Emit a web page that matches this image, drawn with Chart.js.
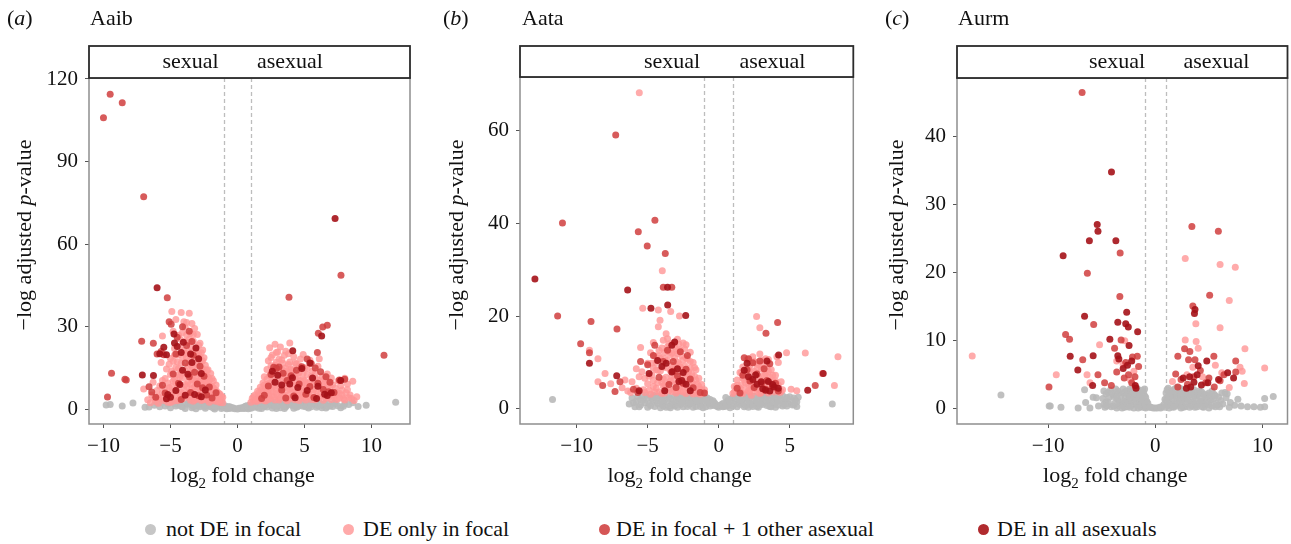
<!DOCTYPE html>
<html>
<head>
<meta charset="utf-8">
<script src="https://cdn.jsdelivr.net/npm/chart.js@4.4.1/dist/chart.umd.min.js"></script>
<style>
  body { margin: 0; background: #fff; }
  #wrap { position: relative; width: 1291px; height: 544px; overflow: hidden; font-family: "Liberation Serif", "Times New Roman", serif; }
  #wrap canvas { position: absolute; top: 0; }
  .legend { position: absolute; top: 516px; left: 0; width: 1291px; height: 28px; font-size: 22px; color: #111; }
  .legend .dot { position: absolute; top: 7.5px; width: 11px; height: 11px; border-radius: 50%; }
  .legend .lab { position: absolute; top: 0; line-height: 26px; white-space: nowrap; }
</style>
</head>
<body>
<div id="wrap">
  <div class="legend" id="legend"></div>
</div>
<script>
// categories (legend order)
const legendLabels = ['not DE in focal', 'DE only in focal', 'DE in focal + 1 other asexual', 'DE in all asexuals'];

// ---- Aaib : [log2 fold change, -log adjusted p] ----
const aaibNotDE = [[-9.8,1.6],[-9.5,1.7],[-8.6,1.2],[-7.8,2.3],[-6.9,0.7],[-6.6,0.8],[-6.2,1.5],[-5.6,2.6],[-5.2,1.9],[-4.9,2.8],[-4.6,1.2],[-4.3,2.4],[-4.1,0.9],[-3.8,1.8],[-3.6,2.9],[-3.4,0.6],[-3.2,1.5],[-3.0,2.6],[-2.8,0.9],[-2.6,1.9],[-2.4,0.4],[-2.3,2.8],[-2.1,1.2],[-1.9,2.2],[-1.8,0.5],[-1.6,1.6],[-1.5,0.8],[-1.3,1.9],[-1.2,0.3],[-1.0,1.1],[-0.9,0.6],[-0.7,0.9],[-0.6,0.3],[-0.4,0.5],[-0.2,0.2],[0,0.1],[0.2,0.3],[0.4,0.4],[0.5,0.8],[0.7,0.5],[0.9,1.0],[1.0,0.4],[1.2,1.5],[1.3,0.7],[1.5,2.0],[1.7,1.1],[1.8,0.3],[2.0,2.4],[2.2,0.8],[2.4,1.7],[2.6,0.5],[2.8,2.6],[3.0,1.2],[3.2,0.6],[3.4,1.9],[3.6,0.9],[3.9,2.5],[4.1,1.4],[4.4,0.7],[4.6,2.2],[4.9,1.1],[5.2,2.7],[5.5,0.9],[5.8,1.8],[6.1,2.4],[6.4,1.2],[6.8,2.0],[7.1,1.0],[7.5,1.3],[7.9,1.1],[8.3,1.7],[8.6,2.4],[9.0,1.0],[9.6,1.5],[11.8,2.6],[-3.9,0.3],[-3.1,0.2],[-2.5,1.3],[-1.7,0.1],[-1.1,0.7],[-0.8,0.2],[0.8,0.2],[1.1,1.2],[1.6,0.4],[2.1,1.6],[2.5,2.9],[2.9,0.3],[3.3,2.8],[3.7,1.5],[4.2,0.4],[4.8,2.7],[5.3,0.5],[5.9,0.7],[6.6,0.5],[-4.4,1.7],[-2.9,1.9],[-2.0,0.9],[-1.4,1.3],[-0.5,0.7],[0.3,0.6],[0.6,1.1],[1.4,1.0],[1.9,1.9],[2.7,1.3],[3.5,0.3],[4.0,2.0],[4.5,1.0],[5.0,1.7],[5.7,2.3],[6.3,0.6],[7.3,2.0],[7.7,0.6],
  [-5.4,1.2],[-5.0,0.6],[-4.7,2.0],[-4.2,1.1],[-3.7,2.2],[-3.3,1.0],[-2.7,2.3],[-2.2,1.8],[-1.9,1.4],[-1.5,2.3],[-1.2,1.6],[-0.9,1.2],[-0.3,0.5],[0.1,0.4],[0.5,0.3],[0.9,1.6],[1.3,2.1],[1.7,2.6],[2.3,2.1],[2.6,1.5],[3.1,2.2],[3.6,2.6],[4.3,1.9],[4.7,1.5],[5.1,0.9],[5.4,1.6],[5.6,2.5],[6.0,1.3],[6.5,2.0],[6.9,1.2],[7.2,2.3],[8.0,1.9],[-6.0,2.2],[-5.8,0.9],[-3.5,1.7],[-2.9,1.4],[-2.4,1.0],[-1.7,1.0],[-1.1,1.6],[-0.6,0.9],[0.7,1.3],[1.1,0.8],[2.0,1.0],[2.8,1.0],[3.4,1.3],[4.5,2.6],[5.5,2.0],[6.2,1.7],[6.7,1.0]];
const aaibFocalOnly = [[-6.7,3.5],[-6.4,5.2],[-6.1,2.8],[-5.9,4.6],[-5.8,8.5],[-5.6,6.1],[-5.5,3.2],[-5.4,11.2],[-5.3,14.6],[-5.2,2.6],[-5.1,7.8],[-5.0,18.5],[-4.9,35.5],[-4.9,4.8],[-4.8,10.3],[-4.8,28.4],[-4.7,22.1],[-4.7,6.5],[-4.6,15.2],[-4.6,32.6],[-4.5,3.1],[-4.5,12.4],[-4.4,19.8],[-4.4,8.8],[-4.3,25.6],[-4.3,5.4],[-4.2,16.7],[-4.2,35.2],[-4.1,11.5],[-4.1,3.8],[-4.0,21.4],[-4.0,7.2],[-3.9,29.8],[-3.9,14.1],[-3.8,4.4],[-3.8,18.6],[-3.7,9.9],[-3.7,24.3],[-3.6,34.9],[-3.6,6.3],[-3.6,13.0],[-3.5,27.7],[-3.5,16.2],[-3.5,3.3],[-3.4,20.8],[-3.4,10.7],[-3.4,31.2],[-3.3,5.8],[-3.3,14.9],[-3.3,24.8],[-3.2,8.2],[-3.2,18.3],[-3.2,29.4],[-3.1,3.6],[-3.1,12.1],[-3.1,22.0],[-3.0,6.9],[-3.0,16.0],[-3.0,27.2],[-2.9,9.6],[-2.9,20.1],[-2.9,4.1],[-2.8,13.6],[-2.8,24.0],[-2.8,7.5],[-2.7,17.4],[-2.7,3.2],[-2.7,11.0],[-2.6,21.5],[-2.6,5.6],[-2.6,14.8],[-2.5,8.9],[-2.5,18.7],[-2.5,3.9],[-2.4,12.4],[-2.4,16.0],[-2.4,6.4],[-2.3,9.8],[-2.3,14.2],[-2.3,3.4],[-2.2,7.2],[-2.2,11.6],[-2.1,4.8],[-2.1,9.0],[-2.0,13.0],[-2.0,6.0],[-1.9,3.6],[-1.9,8.2],[-1.8,10.4],[-1.8,5.1],[-1.7,7.0],[-1.7,3.0],[-1.6,8.8],[-1.6,4.6],[-1.5,6.1],[-1.5,2.8],[-1.4,4.2],[-1.3,5.5],[-1.3,2.5],[-1.2,3.6],[-1.1,2.4],[-1.1,4.4],[-4.4,26.9],[-4.0,31.8],[-3.8,27.0],[-3.7,15.6],[-3.4,7.6],[-3.0,10.2],[-2.8,19.0],[-2.6,10.0],[-3.9,9.0],[-4.2,13.5],[-4.6,9.7],[-5.0,12.6],[-3.3,2.9],[-2.1,2.6],[-5.6,26.6],[-6.3,9.8],[-7.0,7.4],[-5.7,17.0],
  [-6.5,2.4],[-6.2,4.0],[-6.0,6.8],[-5.9,2.2],[-5.7,3.9],[-5.6,10.5],[-5.4,7.4],[-5.3,4.5],[-5.2,9.6],[-5.1,16.4],[-5.0,5.7],[-5.0,2.5],[-4.9,8.1],[-4.9,13.9],[-4.8,17.5],[-4.8,2.9],[-4.7,11.0],[-4.7,19.6],[-4.6,5.0],[-4.5,17.3],[-4.5,7.6],[-4.4,14.8],[-4.4,3.4],[-4.3,22.9],[-4.3,11.9],[-4.2,6.1],[-4.1,18.8],[-4.1,27.9],[-4.0,4.9],[-4.0,13.2],[-3.9,24.6],[-3.9,20.2],[-3.8,8.3],[-3.8,31.5],[-3.7,5.5],[-3.7,20.9],[-3.6,17.8],[-3.6,25.5],[-3.5,9.1],[-3.5,22.9],[-3.4,4.6],[-3.4,14.1],[-3.3,11.3],[-3.3,27.2],[-3.2,3.4],[-3.2,21.1],[-3.1,9.7],[-3.1,17.0],[-3.0,4.4],[-3.0,19.4],[-2.9,13.0],[-2.9,23.3],[-2.8,5.4],[-2.8,10.6],[-2.7,8.2],[-2.7,20.5],[-2.6,3.5],[-2.6,17.6],[-2.5,6.2],[-2.5,14.1],[-2.4,4.2],[-2.4,10.1],[-2.3,7.9],[-2.3,12.2],[-2.2,5.0],[-2.2,14.4],[-2.1,10.8],[-2.0,3.8],[-2.0,8.4],[-1.9,6.5],[-1.9,11.2],[-1.8,3.4],[-1.8,7.7],[-1.7,5.5],[-1.6,3.6],[-1.6,6.8],[-1.5,4.6],[-1.4,3.1],[-1.4,5.8],[-1.2,4.7],
  [1.0,2.6],[1.1,4.0],[1.2,3.1],[1.3,5.2],[1.4,2.8],[1.5,6.6],[1.5,4.1],[1.6,3.2],[1.7,8.0],[1.7,5.3],[1.8,3.6],[1.9,9.6],[1.9,6.5],[2.0,4.3],[2.0,11.8],[2.1,7.6],[2.1,3.0],[2.2,14.5],[2.2,9.1],[2.3,5.4],[2.3,17.6],[2.4,22.4],[2.4,12.3],[2.4,3.8],[2.5,7.1],[2.5,15.8],[2.6,10.2],[2.6,19.7],[2.7,4.6],[2.7,13.2],[2.8,8.4],[2.8,23.6],[2.9,17.1],[2.9,5.7],[3.0,11.0],[3.0,20.8],[3.1,3.4],[3.1,14.6],[3.2,8.9],[3.2,22.6],[3.3,6.2],[3.3,17.9],[3.4,12.1],[3.5,4.5],[3.5,19.6],[3.6,9.7],[3.6,15.0],[3.7,6.8],[3.8,12.9],[3.8,20.2],[3.9,3.7],[3.9,17.2],[4.0,10.4],[4.1,7.3],[4.1,14.3],[4.2,19.1],[4.3,4.9],[4.3,11.6],[4.4,16.5],[4.5,8.1],[4.6,13.4],[4.6,3.2],[4.7,18.3],[4.8,6.4],[4.9,10.9],[5.0,15.1],[5.0,4.2],[5.1,8.7],[5.2,12.6],[5.3,5.6],[5.4,17.8],[5.4,9.9],[5.5,3.6],[5.6,13.9],[5.7,7.1],[5.8,11.2],[5.9,4.7],[6.0,15.6],[6.1,8.4],[6.2,5.9],[6.3,12.0],[6.4,3.3],[6.5,9.3],[6.6,6.6],[6.7,12.8],[6.8,4.4],[6.9,8.1],[7.0,11.4],[7.1,5.3],[7.3,7.7],[7.4,3.6],[7.5,10.3],[7.6,5.8],[7.8,7.0],[7.9,3.9],[8.0,11.3],[8.1,6.0],[8.3,4.2],[8.6,10.2],[8.7,3.2],[8.9,4.6],[8.2,9.2],[6.1,18.4],[4.9,19.9],[3.9,24.1],[2.9,13.9],[3.4,9.4],[4.4,6.0],[5.7,10.2],[2.2,6.2],[3.7,3.1],
  [1.2,4.6],[1.4,3.5],[1.6,6.0],[1.8,4.6],[1.8,7.2],[2.0,3.2],[2.0,8.8],[2.1,5.6],[2.2,11.0],[2.3,3.6],[2.3,7.4],[2.4,9.6],[2.5,4.8],[2.5,18.8],[2.6,6.4],[2.6,14.0],[2.7,8.8],[2.7,11.5],[2.8,3.4],[2.8,16.0],[2.9,7.3],[2.9,20.6],[3.0,5.0],[3.0,9.4],[3.1,12.4],[3.1,18.3],[3.2,4.1],[3.2,6.8],[3.3,10.1],[3.3,14.5],[3.4,5.2],[3.4,16.7],[3.5,7.9],[3.5,11.6],[3.6,3.6],[3.6,21.1],[3.7,8.9],[3.7,13.8],[3.8,5.3],[3.8,16.3],[3.9,7.5],[3.9,11.3],[4.0,4.3],[4.0,14.6],[4.1,9.2],[4.2,6.1],[4.2,12.5],[4.3,3.5],[4.3,16.8],[4.4,9.8],[4.5,5.3],[4.5,12.0],[4.6,7.0],[4.6,15.7],[4.7,4.0],[4.7,10.4],[4.8,8.3],[4.9,13.2],[4.9,5.0],[5.0,7.0],[5.0,10.5],[5.1,3.4],[5.2,9.4],[5.2,14.9],[5.3,7.2],[5.4,4.6],[5.5,11.8],[5.6,6.1],[5.7,8.7],[5.8,3.5],[5.8,13.0],[5.9,6.8],[6.0,10.6],[6.1,4.5],[6.2,7.7],[6.3,9.8],[6.4,5.2],[6.5,11.1],[6.6,4.0],[6.7,8.4],[6.8,10.0],[6.9,5.7],[7.0,3.6],[7.1,8.9],[7.2,4.6],[7.4,6.2],[7.6,4.0],[7.7,8.6],[7.8,5.1],[8.0,3.4],[8.2,7.1],[8.4,5.2],[8.5,3.9]];
const aaibPlusOne = [[-10.0,105.9],[-9.5,114.5],[-8.6,111.4],[-7.0,77.2],[-5.24,40.5],[-9.7,4.5],[-9.4,13.1],[-8.4,10.9],[-8.3,10.6],[-7.15,24.7],[-6.28,24.0],[-6.6,8.2],[-6.4,6.3],[-6.0,20.1],[-5.7,21.0],[-5.5,19.8],[-5.1,31.8],[-4.95,30.9],[-4.6,20.1],[-4.8,12.8],[-4.4,9.5],[-4.2,3.6],[-3.9,16.8],[-3.8,23.2],[-3.6,11.8],[-3.5,6.1],[-3.3,19.6],[-3.2,13.5],[-3.0,9.2],[-2.9,4.9],[-2.8,15.6],[-2.6,7.8],[-2.5,12.0],[-2.3,5.2],[-2.1,8.1],[-1.9,4.1],[-1.6,6.0],[-5.4,5.9],[-5.6,8.7],[-6.1,4.4],[-4.5,26.2],[-4.1,30.0],[-3.6,28.4],[-3.4,24.6],
  [7.72,48.7],[3.84,40.7],[10.93,19.6],[6.03,27.6],[6.36,29.9],[6.7,30.5],[5.96,20.6],[2.7,15.3],[2.9,14.9],[3.1,15.4],[2.5,12.6],[3.4,13.1],[3.7,10.5],[3.3,7.0],[4.0,12.2],[4.4,14.2],[4.8,15.5],[5.2,18.3],[5.5,16.6],[5.8,15.0],[6.2,13.6],[6.6,11.8],[6.9,9.8],[7.2,6.1],[6.4,7.2],[6.8,6.4],[5.4,8.3],[5.1,5.5],[4.6,9.2],[2.0,5.1],[2.3,8.5],[1.8,3.9],[7.6,10.6],[8.0,10.9],[4.2,4.8],[3.6,4.1],[5.7,4.3],[6.0,9.5]];
const aaibAllAsex = [[-6.0,44.2],[-4.74,27.4],[-4.5,22.8],[-4.04,24.4],[-7.1,12.5],[-6.27,12.3],[-5.5,22.5],[-5.8,20.2],[-5.3,19.8],[-4.7,24.1],[-4.2,20.6],[-5.2,5.4],[-5.3,3.8],[-5.0,4.4],[-4.3,9.0],[-3.7,12.7],[-3.5,20.1],[-3.4,17.0],[-3.1,22.3],[-2.9,18.4],[-2.7,13.0],[-2.4,7.0],[-3.9,5.1],[-4.1,14.2],[-3.2,5.4],[-2.7,4.6],[-4.6,6.8],
  [7.28,69.3],[4.12,21.3],[6.28,26.6],[2.6,13.8],[3.0,12.4],[3.9,9.2],[4.1,11.5],[4.5,7.9],[4.8,14.8],[5.2,6.8],[5.6,11.4],[5.4,16.8],[6.0,8.4],[6.5,5.5],[6.7,5.0],[7.0,6.0],[7.7,10.5],[3.3,8.8],[2.8,9.8],[5.9,3.9],[4.3,4.2]];
const aaibXTicks = [-10, -5, 0, 5, 10];
const aaibYTicks = [0, 30, 60, 90, 120];

// ---- Aata ----
const aataNotDE = [[-11.7,2.0],[8.0,1.0],[-6.0,1.3],[-5.7,2.6],[-5.5,0.8],[-5.3,1.9],[-5.1,2.9],[-4.9,1.1],[-4.7,2.2],[-4.5,0.5],[-4.4,1.6],[-4.2,2.7],[-4.0,0.9],[-3.8,1.9],[-3.7,0.3],[-3.5,2.5],[-3.3,1.2],[-3.1,0.6],[-3.0,2.1],[-2.8,1.5],[-2.6,2.8],[-2.5,0.4],[-2.3,1.8],[-2.1,0.9],[-2.0,2.4],[-1.8,1.3],[-1.6,0.5],[-1.5,2.0],[-1.3,1.0],[-1.2,2.6],[-1.0,1.6],[-0.9,0.4],[-0.7,1.1],[-0.6,2.0],[-0.4,0.8],[-0.3,1.3],[-0.1,0.5],[0,0.3],[0.1,0.7],[0.3,1.1],[0.4,0.5],[0.6,1.6],[0.7,0.9],[0.9,2.1],[1.0,0.6],[1.2,1.5],[1.3,2.6],[1.5,0.9],[1.7,2.0],[1.8,0.4],[2.0,1.4],[2.2,2.7],[2.3,0.8],[2.5,1.9],[2.7,0.5],[2.9,2.4],[3.0,1.2],[3.2,2.9],[3.4,0.7],[3.6,1.8],[3.8,2.5],[3.9,0.9],[4.1,1.5],[4.3,2.8],[4.5,0.6],[4.7,2.0],[4.9,1.1],[5.0,2.6],[5.2,0.8],[5.4,1.9],[5.5,0.5],[-5.9,0.4],[-4.6,2.9],[-3.9,1.3],[-3.4,0.2],[-2.7,0.9],[-2.2,2.9],[-1.7,1.7],[-1.1,0.2],[-0.8,2.3],[0.5,2.4],[0.8,0.2],[1.4,1.2],[1.9,2.9],[2.6,1.1],[3.3,1.7],[4.0,0.3],[4.6,1.3],[5.3,2.3],[-4.1,0.2],[-2.9,2.7],[-1.4,1.4],[2.1,0.3],[3.7,0.4],[-6.3,1.0],[-5.0,0.3],
  [-6.1,2.3],[-5.8,1.6],[-5.6,0.4],[-5.4,2.8],[-5.2,1.3],[-5.0,2.3],[-4.8,0.7],[-4.6,1.8],[-4.3,1.1],[-4.1,2.4],[-3.9,0.6],[-3.8,2.8],[-3.6,1.6],[-3.4,2.2],[-3.2,0.9],[-3.0,1.6],[-2.9,0.3],[-2.7,2.2],[-2.5,1.5],[-2.4,2.6],[-2.2,0.5],[-2.1,1.9],[-1.9,2.6],[-1.8,0.3],[-1.6,1.6],[-1.5,2.7],[-1.3,0.5],[-1.2,1.8],[-1.0,2.3],[-0.8,1.5],[-0.6,0.6],[-0.5,1.5],[-0.3,0.7],[-0.2,0.9],[0.2,0.9],[0.3,0.4],[0.5,1.2],[0.6,0.6],[0.8,1.6],[1.0,2.5],[1.1,1.0],[1.3,0.4],[1.4,2.2],[1.6,1.5],[1.8,2.6],[1.9,0.7],[2.1,2.1],[2.2,1.2],[2.4,0.5],[2.5,2.7],[2.7,1.6],[2.8,0.3],[3.0,2.2],[3.1,0.9],[3.3,2.4],[3.5,1.3],[3.6,0.5],[3.8,1.5],[4.0,2.3],[4.2,0.8],[4.4,1.8],[4.5,2.8],[4.8,0.6],[4.8,2.4],[5.1,1.6],[5.3,0.9],[5.6,2.5],[5.5,1.5],[-4.5,2.6],[-3.5,0.5],[-2.6,1.2],[-1.4,2.2],[-0.4,1.7],[0.7,2.0],[1.5,1.8],[2.6,2.2],[3.4,2.8],[4.2,2.0],[-5.5,2.0],[-4.0,1.7],[-3.1,2.7],[-2.0,1.1],[-0.9,1.9],[1.2,2.8],[2.0,2.5],[2.9,1.0],[3.9,2.8],[4.6,0.9]];
const aataFocalOnly = [[-5.59,68.2],[-3.97,29.8],[-5.35,21.7],[-4.25,21.3],[-3.38,21.0],[-4.13,19.1],[-4.25,17.7],[-2.76,20.0],[-8.5,10.8],[-8.5,5.8],[-8.0,7.6],[-9.1,12.6],[-7.6,5.4],[-6.8,4.5],[-6.4,3.8],[-6.1,5.8],[-5.8,8.6],[-5.5,13.2],[-5.2,6.6],[-5.0,9.8],[-4.9,4.0],[-4.8,12.1],[-4.7,7.3],[-4.6,14.3],[-4.5,3.6],[-4.4,10.0],[-4.3,5.6],[-4.2,12.6],[-4.1,8.2],[-4.0,3.3],[-3.9,14.8],[-3.9,6.4],[-3.8,10.9],[-3.7,4.5],[-3.6,13.4],[-3.6,8.8],[-3.5,3.9],[-3.4,11.7],[-3.4,6.0],[-3.3,9.4],[-3.2,14.1],[-3.2,4.2],[-3.1,7.5],[-3.0,12.5],[-3.0,3.4],[-2.9,10.1],[-2.9,5.5],[-2.8,13.9],[-2.8,8.0],[-2.7,3.8],[-2.6,11.4],[-2.6,6.7],[-2.5,14.2],[-2.5,4.7],[-2.4,9.2],[-2.4,12.9],[-2.3,5.9],[-2.3,3.3],[-2.2,10.7],[-2.2,7.6],[-2.1,4.4],[-2.0,12.2],[-2.0,8.8],[-1.9,5.7],[-1.9,3.5],[-1.8,10.0],[-1.7,7.0],[-1.7,4.3],[-1.6,8.4],[-1.5,5.3],[-1.5,3.3],[-1.4,6.6],[-1.3,4.2],[-1.2,5.2],[-1.1,3.4],[-1.0,4.1],[-3.7,16.2],[-2.9,15.0],[-4.4,8.4],[-3.3,7.0],[-2.7,9.0],[-2.1,6.2],[-1.8,3.2],[-3.8,5.1],[-4.6,4.8],[-5.3,4.1],[-5.6,6.9],[-6.6,6.2],[-2.4,7.3],[-3.1,11.0],[-3.5,12.3],
  [-5.2,3.5],[-5.0,5.4],[-4.9,7.0],[-4.8,3.1],[-4.7,9.8],[-4.6,6.1],[-4.5,11.3],[-4.4,4.4],[-4.3,8.3],[-4.2,3.6],[-4.1,10.9],[-4.0,5.7],[-4.0,13.1],[-3.9,8.9],[-3.8,3.4],[-3.8,12.2],[-3.7,6.8],[-3.6,10.4],[-3.5,5.6],[-3.5,14.0],[-3.4,8.2],[-3.3,3.7],[-3.3,12.0],[-3.2,6.2],[-3.1,9.2],[-3.1,13.3],[-3.0,5.3],[-2.9,11.9],[-2.9,3.8],[-2.8,6.3],[-2.8,9.7],[-2.7,12.7],[-2.7,4.9],[-2.6,8.5],[-2.5,10.5],[-2.5,3.6],[-2.4,5.2],[-2.3,11.0],[-2.2,4.5],[-2.1,8.0],[-2.0,10.2],[-2.0,4.2],[-1.9,7.4],[-1.8,5.3],[-1.7,8.9],[-1.6,3.6],[-1.6,6.2],[-1.4,4.8],[-1.3,3.1],[-1.2,4.0],[-3.9,4.9],[-4.2,11.4],[-4.6,8.8],[-5.4,8.0],[-5.8,4.4],[-6.2,3.5],[-3.6,15.1],[-2.3,13.8],
  [2.67,19.9],[2.9,17.5],[4.78,12.1],[6.1,12.0],[8.4,11.2],[8.15,5.0],[5.1,4.2],[5.5,3.9],[7.3,7.6],[1.0,3.3],[1.1,4.8],[1.2,3.8],[1.3,6.2],[1.4,4.2],[1.5,7.8],[1.6,5.1],[1.6,3.4],[1.7,9.0],[1.8,6.3],[1.9,4.1],[2.0,10.6],[2.0,7.4],[2.1,5.2],[2.2,3.5],[2.2,9.3],[2.3,6.4],[2.4,11.2],[2.4,4.3],[2.5,8.1],[2.6,5.6],[2.6,10.0],[2.7,3.6],[2.8,7.0],[2.8,9.5],[2.9,4.8],[3.0,8.6],[3.1,6.1],[3.1,10.4],[3.2,3.9],[3.3,7.5],[3.4,5.2],[3.4,9.1],[3.5,3.4],[3.6,6.8],[3.7,8.4],[3.7,4.5],[3.8,5.9],[3.9,3.6],[4.0,7.2],[4.1,4.6],[4.2,10.0],[4.3,3.5],[4.4,5.8],[4.5,4.1],[4.1,11.2],[3.5,10.6],[2.3,2.9],[1.9,8.2],[2.9,11.8],
  [1.1,3.6],[1.3,5.0],[1.5,4.4],[1.7,3.3],[1.7,6.6],[1.9,5.5],[2.1,3.8],[2.1,8.6],[2.3,4.9],[2.3,7.8],[2.5,6.0],[2.5,10.2],[2.7,4.2],[2.7,8.8],[2.9,6.4],[3.0,3.5],[3.0,9.6],[3.2,5.2],[3.2,7.4],[3.4,3.8],[3.5,8.1],[3.6,5.3],[3.8,7.2],[3.9,4.3],[4.0,6.0],[4.2,5.1],[4.4,3.7],[1.6,7.8],[2.9,3.3],[3.3,10.8]];
const aataPlusOne = [[-7.25,59.1],[-11.0,40.1],[-11.34,20.0],[-8.99,18.8],[-9.72,14.0],[-9.1,12.1],[-8.17,5.0],[-7.16,17.2],[-6.95,5.8],[-7.3,3.7],[-5.66,38.2],[-5.03,35.1],[-4.49,40.7],[-3.76,33.5],[-3.9,26.2],[-3.3,26.2],[-6.0,4.2],[-5.7,3.5],[-5.0,9.5],[-4.6,11.5],[-4.2,6.8],[-3.9,10.2],[-3.6,12.6],[-3.5,5.2],[-3.2,10.2],[-2.9,7.1],[-2.7,12.3],[-2.5,5.5],[-2.3,8.5],[-2.0,6.4],[-1.8,4.5],[-1.3,3.5],[-1.0,3.4],[-3.0,4.6],[-4.5,13.7],[-3.2,8.1],[-5.5,10.2],[-2.2,11.5],
  [3.33,16.3],[4.15,18.6],[6.8,5.0],[1.3,4.4],[1.7,7.2],[1.8,11.0],[2.0,8.4],[2.2,6.0],[2.4,9.9],[2.5,4.6],[2.7,7.5],[2.9,10.3],[3.0,5.4],[3.2,8.6],[3.4,6.1],[3.6,9.7],[3.8,4.8],[4.0,5.5],[4.2,3.8],[2.1,10.8],[1.5,3.4],[3.3,4.2]];
const aataAllAsex = [[-12.94,28.0],[-9.1,9.8],[-7.18,7.1],[-6.41,25.6],[-3.6,26.2],[-3.59,22.4],[-4.77,21.7],[-2.32,20.1],[-3.3,13.7],[-3.1,14.4],[-4.3,10.4],[-4.0,9.1],[-3.7,9.8],[-3.3,7.9],[-2.8,5.9],[-2.6,6.1],[-2.3,5.3],[-2.9,8.6],[-3.8,3.9],[-2.0,3.9],[-5.6,3.9],[-4.9,7.6],[-2.5,7.8],
  [4.22,11.6],[7.36,7.6],[6.27,4.0],[1.8,8.3],[2.1,6.9],[2.4,6.3],[2.7,5.3],[3.0,5.8],[3.1,4.3],[3.3,4.0],[3.5,5.9],[3.6,3.8],[3.9,4.7],[4.2,4.4],[3.4,10.3],[2.0,9.8],[2.6,7.3],[3.8,5.2]];
const aataXTicks = [-10, -5, 0, 5];
const aataYTicks = [0, 20, 40, 60];

// ---- Aurm ----
const aurmNotDE = [[-14.4,2.0],[-9.9,0.4],[-9.8,0.4],[-8.8,0.2],[-7.2,0.1],[-6.6,2.8],[-6.5,0.9],[-6.1,0.1],[-5.8,1.7],[-5.5,1.6],[-5.3,0.4],[-4.9,1.5],[-4.8,0.6],[-4.6,2.2],[-4.4,1.0],[-4.2,2.7],[-4.1,0.3],[-3.9,1.8],[-3.8,0.8],[-3.7,2.9],[-3.5,1.3],[-3.4,0.4],[-3.3,2.3],[-3.1,1.0],[-3.0,2.9],[-2.9,0.2],[-2.8,1.7],[-2.7,2.6],[-2.6,0.7],[-2.5,1.4],[-2.4,2.9],[-2.3,0.4],[-2.2,2.1],[-2.1,1.2],[-2.0,2.8],[-1.9,0.6],[-1.8,1.9],[-1.7,3.0],[-1.6,1.0],[-1.5,2.4],[-1.4,0.3],[-1.3,1.6],[-1.2,2.7],[-1.1,0.8],[-1.0,1.9],[-0.9,0.4],[-0.8,1.1],[-0.6,0.3],[-0.4,0.2],[-0.2,0.1],[0,0.1],[0.2,0.1],[0.4,0.2],[0.6,0.3],[0.8,0.6],[0.9,1.4],[1.0,2.3],[1.1,0.5],[1.2,3.0],[1.3,1.6],[1.4,0.9],[1.5,2.6],[1.6,0.3],[1.7,1.9],[1.8,2.9],[1.9,1.1],[2.0,0.4],[2.1,2.4],[2.2,1.5],[2.3,3.0],[2.4,0.7],[2.5,2.0],[2.6,1.2],[2.7,2.8],[2.8,0.3],[2.9,1.7],[3.0,2.5],[3.2,0.9],[3.3,2.1],[3.5,1.4],[3.6,2.8],[3.8,0.5],[3.9,1.9],[4.1,2.6],[4.2,1.1],[4.4,0.3],[4.5,2.2],[4.7,1.5],[4.9,2.0],[5.0,0.6],[5.2,1.3],[5.5,2.1],[5.7,0.8],[5.9,1.7],[6.2,2.3],[6.5,2.4],[6.7,2.2],[7.0,0.9],[7.7,1.4],[8.0,0.4],[8.6,0.3],[9.2,0.3],[9.8,0.2],[10.2,0.3],[10.2,1.5],[11.0,1.8],[-3.6,0.1],[-2.0,0.1],[-1.2,0.2],[1.3,0.1],[2.6,0.2],[3.7,0.2],[-4.4,2.4],[-3.2,0.6],[-2.3,1.7],[-1.6,2.0],[-1.0,2.9],[1.1,1.7],[1.6,2.2],[2.0,3.1],[2.8,1.4],[3.4,0.4],[4.0,0.8],[4.6,0.5],[5.3,2.6],[6.0,0.3],[6.9,0.2],[7.4,0.5],
  [-4.8,2.6],[-4.6,1.0],[-4.5,0.4],[-4.3,1.7],[-4.0,2.3],[-3.9,0.4],[-3.8,2.1],[-3.6,1.6],[-3.5,2.6],[-3.3,0.9],[-3.2,1.9],[-3.0,0.6],[-2.9,2.4],[-2.8,1.1],[-2.7,0.3],[-2.6,2.2],[-2.5,0.9],[-2.4,1.8],[-2.3,2.6],[-2.2,0.8],[-2.1,2.9],[-2.0,1.6],[-1.9,2.3],[-1.8,1.2],[-1.7,0.5],[-1.6,2.8],[-1.5,1.5],[-1.4,2.2],[-1.3,0.7],[-1.2,1.3],[-1.1,2.4],[-1.0,0.6],[-0.9,1.7],[-0.8,0.4],[-0.7,0.8],[1.0,1.2],[1.1,2.8],[1.2,0.5],[1.3,2.3],[1.4,1.9],[1.5,0.6],[1.6,1.5],[1.7,2.7],[1.8,0.7],[1.9,2.4],[2.0,1.8],[2.1,0.6],[2.2,2.9],[2.3,1.3],[2.4,2.2],[2.5,0.4],[2.6,2.6],[2.7,1.6],[2.8,2.2],[2.9,0.7],[3.0,1.4],[3.1,2.9],[3.2,2.0],[3.3,0.6],[3.4,2.6],[3.5,0.9],[3.6,1.9],[3.7,2.4],[3.8,1.3],[3.9,0.3],[4.0,2.2],[4.2,1.8],[4.3,2.5],[4.4,1.0],[4.6,1.9],[4.8,0.9],[5.0,2.3],[5.1,1.7],[5.3,0.4],[5.4,1.4],[5.6,1.9],[5.8,0.5],[6.1,1.2],[6.3,0.7],[6.6,1.6],[-4.7,0.2],[-3.1,0.1],[-2.4,0.2],[-1.6,0.1],[-0.9,0.1],[-0.5,0.2],[0.5,0.1],[0.9,0.2],[1.7,0.2],[2.4,0.1],[3.2,0.2],[4.5,0.2],[5.0,0.1],[5.6,0.3]];
const aurmFocalOnly = [[-17.08,7.75],[-9.24,5.0],[-6.37,5.0],[-6.09,3.8],[-2.85,10.0],[-3.0,6.5],[-2.3,4.2],[-2.0,5.5],[-3.6,7.0],[-1.9,3.3],[-5.2,9.4],
  [2.79,22.1],[6.04,21.2],[7.46,20.8],[6.9,15.9],[3.78,12.5],[6.04,11.9],[2.79,10.1],[3.81,9.9],[4.0,8.9],[8.36,8.8],[10.2,6.0],[6.2,5.3],[8.3,3.7],[8.1,5.5],[6.9,3.1],[2.95,5.0],[1.6,4.0],[3.5,6.1],[5.6,6.4],[4.4,4.7],[7.9,6.1]];
const aurmPlusOne = [[-6.83,46.5],[-9.92,3.2],[-8.37,10.9],[-8.0,10.2],[-6.77,7.2],[-6.34,19.9],[-5.75,12.4],[-5.35,5.0],[-4.73,3.8],[-3.28,22.9],[-3.31,16.5],[-3.19,10.1],[-3.8,8.9],[-2.76,6.8],[-2.13,7.6],[-1.68,7.7],[-1.56,6.2],[-3.6,5.4],[-2.5,5.0],[-2.2,3.8],[-4.1,3.4],[-2.9,4.5],[-1.9,4.7],
  [3.41,26.8],[5.88,26.1],[3.5,15.1],[5.07,16.7],[2.73,8.8],[3.22,8.4],[2.1,7.7],[3.1,7.2],[3.7,7.2],[5.46,7.7],[7.5,7.0],[7.5,5.4],[6.04,4.1],[5.5,3.2],[4.7,3.8],[1.9,5.1],[2.4,4.3],[3.0,3.6],[4.2,5.6],[3.6,4.7],[5.0,4.5],[2.1,3.2],[6.4,5.0]];
const aurmAllAsex = [[-4.09,34.8],[-8.6,22.5],[-7.94,7.7],[-7.23,5.7],[-6.6,13.6],[-6.15,24.7],[-5.42,27.1],[-5.35,26.1],[-5.8,7.8],[-5.85,3.4],[-4.24,10.2],[-3.68,24.7],[-3.5,12.7],[-2.76,12.5],[-2.52,12.0],[-2.67,14.2],[-3.5,7.8],[-3.4,7.3],[-2.45,9.3],[-1.65,11.3],[-1.87,3.4],[-1.8,3.0],[-2.6,6.4],[-2.2,7.0],[-3.0,5.9],
  [3.7,14.6],[3.65,14.0],[4.8,7.0],[4.0,6.3],[6.75,5.3],[7.3,4.5],[4.9,3.8],[2.9,3.0],[3.2,4.7],[3.6,3.9],[4.3,3.5],[2.6,4.5],[3.9,5.0],[3.3,3.2],[5.9,4.3]];
const aurmXTicks = [-10, 0, 10];
const aurmYTicks = [0, 10, 20, 30, 40];

// styling
const pointColors = ['rgba(185,185,185,0.9)', 'rgba(255,150,150,0.8)', 'rgba(208,62,62,0.85)', 'rgba(165,18,24,0.9)'];
const legendColors = ['#c6c6c6', '#ffaaaa', '#d55656', '#b02a2e'];
const SERIF = '"Liberation Serif", "Times New Roman", serif';
Chart.defaults.font.family = SERIF;

function fmtTick(v) {
    return v < 0 ? '\u2212' + Math.abs(v) : String(v);
}

function drawRuns(ctx, runs, x, y) {
    runs.forEach(r => {
        ctx.font = r.font;
        ctx.fillText(r.text, x, y + (r.dy || 0));
        x += ctx.measureText(r.text).width;
    });
}

function runsWidth(ctx, runs) {
    return runs.reduce((w, r) => { ctx.font = r.font; return w + ctx.measureText(r.text).width; }, 0);
}

function makeDecor(p) {
    return {
        id: 'decor',
        beforeDatasetsDraw(chart) {
            const { ctx, chartArea: a, scales: { x } } = chart;
            ctx.save();
            ctx.strokeStyle = '#bdbdbd';
            ctx.lineWidth = 1.3;
            ctx.setLineDash([4, 3]);
            [-1, 1].forEach(v => {
                const px = Math.round(x.getPixelForValue(v)) + 0.5;
                ctx.beginPath();
                ctx.moveTo(px, a.top);
                ctx.lineTo(px, a.bottom);
                ctx.stroke();
            });
            ctx.restore();
        },
        afterDraw(chart) {
            const { ctx, chartArea: a } = chart;
            const F = '22px ' + SERIF;
            ctx.save();
            ctx.strokeStyle = '#8e8e8e';
            ctx.lineWidth = 1.5;
            ctx.strokeRect(a.left, a.top, a.right - a.left, a.bottom - a.top);

            // strip
            ctx.fillStyle = '#fff';
            ctx.fillRect(a.left, 46, a.right - a.left, a.top - 46);
            ctx.strokeStyle = '#2b2b2b';
            ctx.lineWidth = 1.8;
            ctx.strokeRect(a.left, 46, a.right - a.left, a.top - 46);
            ctx.fillStyle = '#111';
            ctx.font = F;
            ctx.textAlign = 'center';
            ctx.textBaseline = 'alphabetic';
            ctx.fillText('sexual', p.sexualX, 68);
            ctx.fillText('asexual', p.asexualX, 68);

            // panel tag and name
            ctx.textAlign = 'left';
            drawRuns(ctx, [{ text: '(', font: F }, { text: p.tag, font: 'italic ' + F }, { text: ')', font: F }], p.tagX, 25);
            ctx.font = F;
            ctx.fillText(p.name, a.left + p.nameDx, 25);

            // x title
            const xRuns = [{ text: 'log', font: F }, { text: '2', font: '15px ' + SERIF, dy: 6 }, { text: ' fold change', font: F }];
            const xw = runsWidth(ctx, xRuns);
            drawRuns(ctx, xRuns, (a.left + a.right) / 2 - 7 - xw / 2, 482);

            // y title
            const yRuns = [{ text: '\u2212log adjusted ', font: F }, { text: 'p', font: 'italic ' + F }, { text: '-value', font: F }];
            const yw = runsWidth(ctx, yRuns);
            ctx.translate(p.yTitleX, (46 + a.bottom) / 2);
            ctx.rotate(-Math.PI / 2);
            drawRuns(ctx, yRuns, -yw / 2, 0);
            ctx.restore();
        }
    };
}

function makePanel(p) {
    const canvas = document.createElement('canvas');
    canvas.width = p.width;
    canvas.height = 505;
    canvas.style.left = p.left + 'px';
    document.getElementById('wrap').appendChild(canvas);

    const sets = [p.notDE, p.focalOnly, p.plusOne, p.allAsex];
    const tickFont = { family: SERIF, size: 21 };
    const gridOpts = { drawOnChartArea: false, drawTicks: true, tickLength: 4, color: '#555', lineWidth: 1 };

    new Chart(canvas, {
        type: 'scatter',
        data: {
            datasets: sets.map((pts, i) => ({
                label: legendLabels[i],
                data: pts.map(([x, y]) => ({ x, y })),
                backgroundColor: pointColors[i],
                pointRadius: 3.5,
                pointHoverRadius: 3.5,
                pointBorderWidth: 0,
                order: 4 - i
            }))
        },
        options: {
            responsive: false,
            animation: false,
            events: [],
            layout: { padding: { top: p.top, right: p.padRight, left: 0, bottom: 0 } },
            plugins: { legend: { display: false }, tooltip: { enabled: false } },
            scales: {
                x: {
                    type: 'linear',
                    min: p.xMin,
                    max: p.xMax,
                    afterBuildTicks: s => { s.ticks = p.xTicks.map(v => ({ value: v })); },
                    afterFit: s => { s.height = 81; },
                    grid: gridOpts,
                    border: { display: false },
                    ticks: { padding: 6, color: '#111', font: tickFont, callback: fmtTick, maxRotation: 0, autoSkip: false }
                },
                y: {
                    type: 'linear',
                    min: p.yMin,
                    max: p.yMax,
                    afterBuildTicks: s => { s.ticks = p.yTicks.map(v => ({ value: v })); },
                    afterFit: s => { s.width = p.axisLeft; },
                    grid: gridOpts,
                    border: { display: false },
                    ticks: { padding: 7, color: '#111', font: tickFont, callback: fmtTick, autoSkip: false }
                }
            }
        },
        plugins: [makeDecor(p)]
    });
}

makePanel({
    left: 0, width: 430, axisLeft: 89, padRight: 20, top: 78,
    xMin: -11.08, xMax: 12.87, yMin: -5.34, yMax: 120.36,
    xTicks: aaibXTicks, yTicks: aaibYTicks,
    notDE: aaibNotDE, focalOnly: aaibFocalOnly, plusOne: aaibPlusOne, allAsex: aaibAllAsex,
    tag: 'a', tagX: 7, name: 'Aaib', nameDx: 1, sexualX: 190.5, asexualX: 290, yTitleX: 31
});
makePanel({
    left: 430, width: 430, axisLeft: 90, padRight: 6.7, top: 77,
    xMin: -13.99, xMax: 9.48, yMin: -3.3, yMax: 71.6,
    xTicks: aataXTicks, yTicks: aataYTicks,
    notDE: aataNotDE, focalOnly: aataFocalOnly, plusOne: aataPlusOne, allAsex: aataAllAsex,
    tag: 'b', tagX: 13, name: 'Aata', nameDx: 2, sexualX: 242, asexualX: 342.5, yTitleX: 33
});
makePanel({
    left: 860, width: 431, axisLeft: 97, padRight: 1.5, top: 78,
    xMin: -18.5, xMax: 12.33, yMin: -2.25, yMax: 48.63,
    xTicks: aurmXTicks, yTicks: aurmYTicks,
    notDE: aurmNotDE, focalOnly: aurmFocalOnly, plusOne: aurmPlusOne, allAsex: aurmAllAsex,
    tag: 'c', tagX: 25, name: 'Aurm', nameDx: 1, sexualX: 257, asexualX: 356.5, yTitleX: 43
});

// shared legend
const legendDotX = [150, 348, 604, 983];
const legendTextX = [166, 363, 616, 997];
const legendEl = document.getElementById('legend');
legendEl.innerHTML = legendLabels.map((lab, i) => `
    <span class="dot" style="left:${legendDotX[i] - 5.5}px; background:${legendColors[i]}"></span>
    <span class="lab" style="left:${legendTextX[i]}px">${lab}</span>
`).join('');
</script>
</body>
</html>
